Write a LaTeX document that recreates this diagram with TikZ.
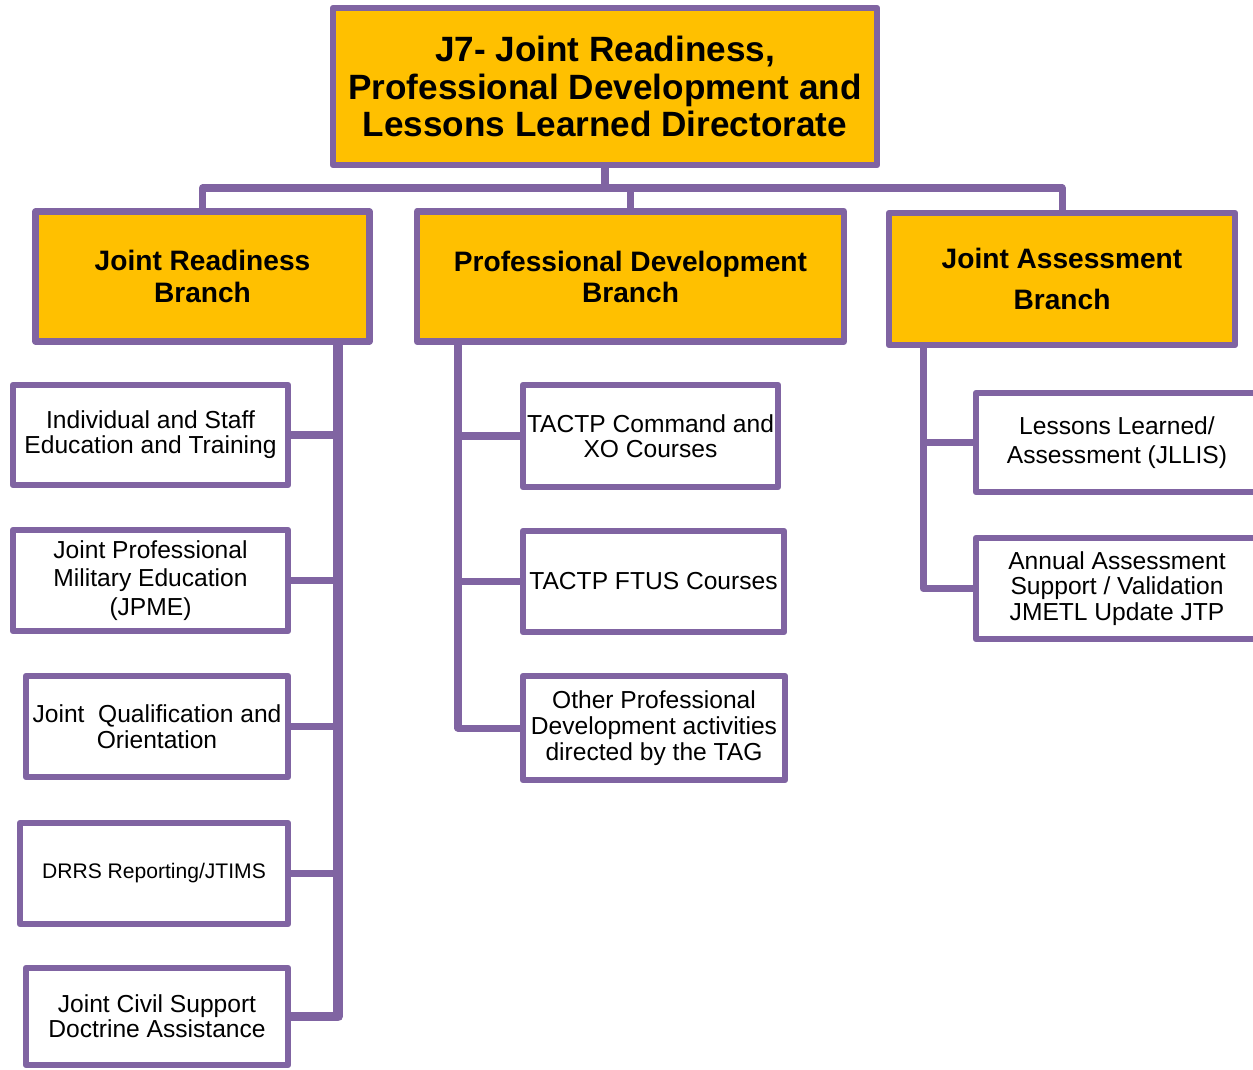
\documentclass[tikz,border=0pt]{standalone}
\usepackage{fontspec}
\setmainfont{Liberation Sans}
\usepackage{tikz}
\definecolor{jpurple}{HTML}{8064A2}
\definecolor{jgold}{HTML}{FFC000}
\tikzset{
	headbox/.style={draw=jpurple, line width=3.7pt, fill=jgold, line join=round, inner sep=0pt, align=center},
	subbox/.style={draw=jpurple, line width=3.7pt, fill=white, line join=round, inner sep=0pt, align=center},
	boxsize/.style 2 args={minimum width=#1*0.02cm, minimum height=#2*0.02cm},
	hfont/.style 2 args={font=\fontsize{#1}{#2}\selectfont\bfseries},
	txt/.style 2 args={font=\fontsize{#1}{#2}\selectfont},
	link/.style={draw=jpurple, line width=4pt, line join=round},
	tick/.style={draw=jpurple, line width=4.5pt},
	trunk/.style={draw=jpurple, line width=5.6pt, line join=round}
}

\begin{document}
\begin{tikzpicture}[x=0.02cm, y=-0.02cm]
			%%%%% START %%%%%
			\useasboundingbox (0, 0) rectangle (1253, 1069);
			
			%%%%% directorate and branches %%%%%
			\node[headbox, boxsize={544}{157}, hfont={20}{21.3}] (j7) at (605, 86.5) {J7- Joint Readiness,\\Professional Development and\\Lessons Learned Directorate};
			\node[headbox, boxsize={334}{130}, hfont={16}{18}] (jrb) at (202.5, 276.5) {Joint Readiness\\Branch};
			\node[headbox, boxsize={427}{130}, hfont={16}{17.6}] (pdb) at (630.5, 276.5) {Professional Development\\Branch};
			\node[headbox, boxsize={346}{132}, hfont={16}{23}] (jab) at (1062, 279) {Joint Assessment\\Branch};
			
			%%%%% joint readiness %%%%%
			\node[subbox, boxsize={275}{100}, txt={14}{14.2}] (l1) at (150.5, 435) {Individual and Staff\\Education and Training};
			\node[subbox, boxsize={275}{101}, txt={14}{16.4}] (l2) at (150.5, 580.5) {Joint Professional\\Military Education\\(JPME)};
			\node[subbox, boxsize={262}{101}, txt={14}{14.5}] (l3) at (157, 726.5) {Joint\ \ Qualification and\\Orientation};
			\node[subbox, boxsize={268}{101}, txt={12}{14}] (l4) at (154, 873.5) {DRRS Reporting/JTIMS};
			\node[subbox, boxsize={262}{97}, txt={14}{14.2}] (l5) at (157, 1016.5) {Joint Civil Support\\Doctrine Assistance};
			
			%%%%% professional development %%%%%
			\node[subbox, boxsize={255}{102}, txt={14}{14.2}] (p1) at (650.5, 436) {TACTP Command and\\XO Courses};
			\node[subbox, boxsize={261}{101}, txt={14}{14.2}] (p2) at (653.5, 581.5) {TACTP FTUS Courses};
			\node[subbox, boxsize={262}{104}, txt={14}{14.7}] (p3) at (654, 728) {Other Professional\\Development activities\\directed by the TAG};
			
			%%%%% joint assessment %%%%%
			\node[subbox, boxsize={282}{99}, txt={14}{16.4}] (a1) at (1117, 442.5) {Lessons Learned/\\Assessment (JLLIS)};
			\node[subbox, boxsize={282}{101}, txt={14}{14.7}] (a2) at (1117, 588.5) {Annual Assessment\\Support / Validation\\JMETL Update JTP};
			
			%%%%% connectors %%%%%
			\coordinate (bar) at (0, 188);
			\coordinate (jrt) at (338, 0);
			\coordinate (pdt) at (458, 0);
			\coordinate (jat) at (923, 0);
			
			\draw[link] (j7.south) -- (j7.south |- bar);
			\draw[link] (jrb.north) |- (bar -| jab.north) -- (jab.north);
			\draw[link] (pdb.north) -- (pdb.north |- bar);
			
			\draw[trunk] (jrb.south -| jrt) |- (l5.east);
			\foreach \n in {l1, l2, l3, l4}
				\draw[tick] (\n.east) -- (\n.east -| jrt);
			
			\draw[link] (pdb.south -| pdt) |- (p3.west);
			\foreach \n in {p1, p2}
				\draw[link] (\n.west) -- (\n.west -| pdt);
			
			\draw[link] (jab.south -| jat) |- (a2.west);
			\draw[link] (a1.west) -- (a1.west -| jat);
			
			%%%%% END %%%%%
\end{tikzpicture}
\end{document}
